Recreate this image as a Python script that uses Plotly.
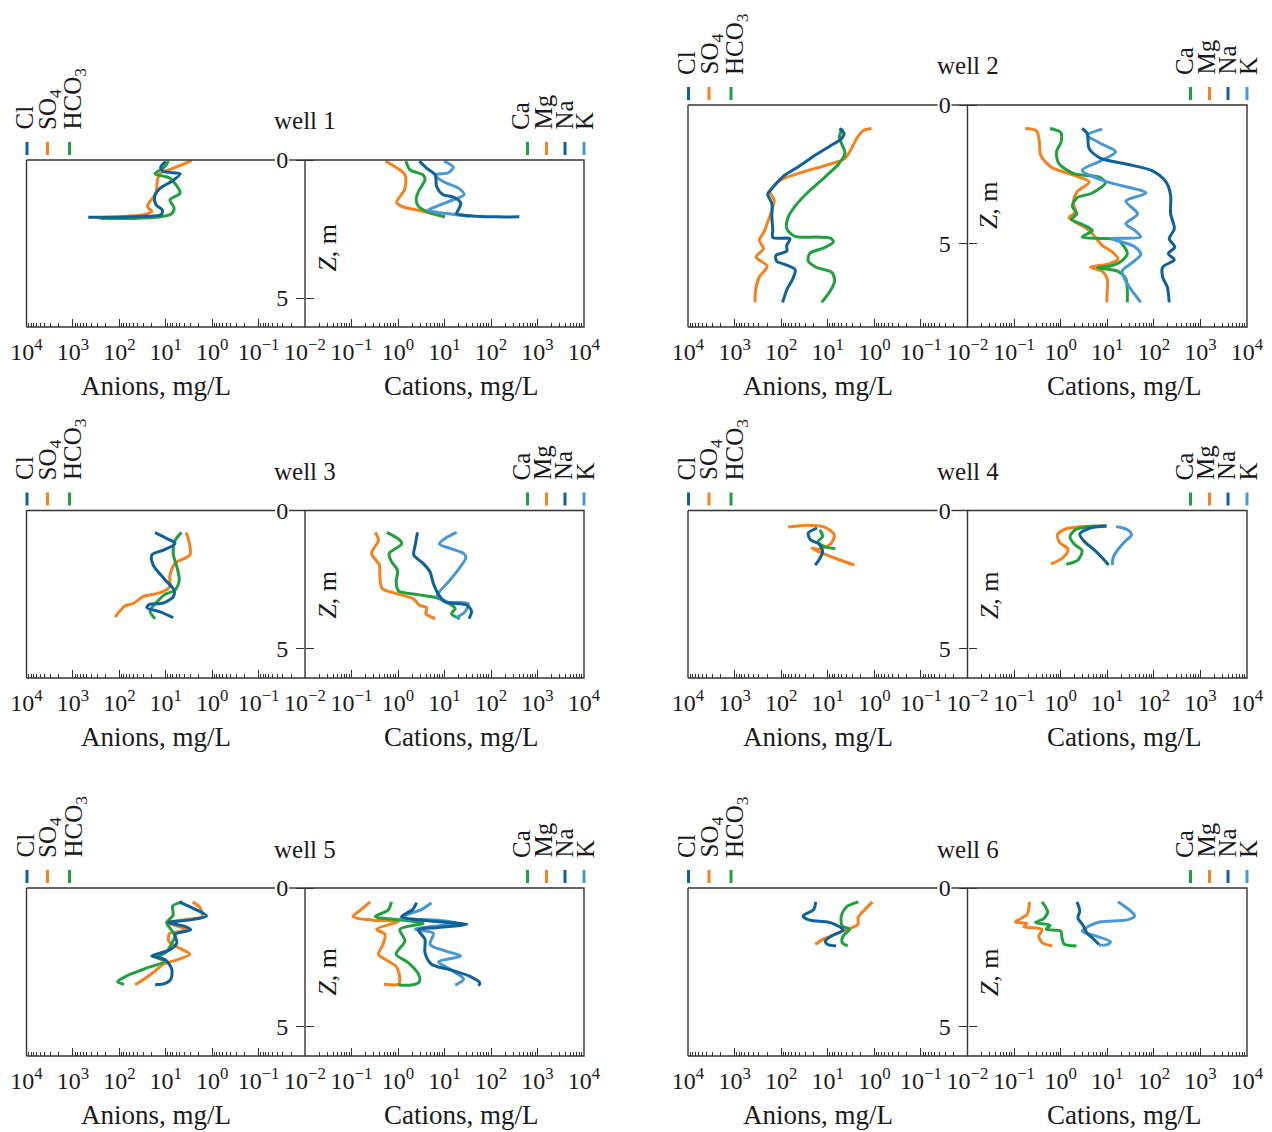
import numpy as np
import plotly.graph_objects as go

# ---------------------------------------------------------------------------
# Profiles: depth Z (m) and lg of concentration (mg/L)
# ---------------------------------------------------------------------------
# well 1
w1_cl_z = [0.06, 0.26, 0.42, 0.50, 0.74, 1.02, 1.32, 1.62, 1.82, 1.98, 2.04, 2.07, 2.07]
w1_cl_lg = [1.00, 1.11, 1.05, 0.69, 0.84, 1.12, 1.24, 1.21, 1.07, 1.10, 1.41, 2.06, 2.67]
w1_so4_z = [0.02, 0.30, 0.48, 0.72, 1.20, 1.50, 1.68, 1.86, 1.98, 2.04, 2.09]
w1_so4_lg = [0.44, 0.84, 1.12, 1.18, 1.21, 1.34, 1.40, 1.30, 1.48, 1.84, 2.49]
w1_hco3_z = [0.04, 0.24, 0.50, 0.66, 1.20, 1.44, 1.74, 1.94, 2.06, 2.12, 2.11]
w1_hco3_lg = [0.94, 1.02, 1.23, 0.91, 0.69, 0.91, 0.82, 0.87, 1.12, 1.70, 2.42]
w1_ca_z = [0.04, 0.36, 0.54, 0.72, 1.14, 1.44, 1.68, 1.86, 2.06]
w1_ca_lg = [0.17, 0.26, 0.54, 0.58, 0.44, 0.39, 0.44, 0.62, 1.01]
w1_mg_z = [0.04, 0.54, 1.08, 1.53, 1.68, 1.86, 2.07]
w1_mg_lg = [-0.27, 0.15, 0.14, -0.03, 0.08, 0.54, 1.01]
w1_na_z = [0.04, 0.30, 0.54, 0.96, 1.26, 1.34, 1.56, 1.80, 1.94, 2.04, 2.06, 2.06]
w1_na_lg = [0.46, 0.62, 0.80, 0.83, 0.97, 1.19, 1.35, 1.30, 1.26, 1.69, 2.12, 2.61]
w1_k_z = [0.04, 0.26, 0.46, 0.54, 0.78, 1.02, 1.26, 1.44, 1.68, 1.82, 1.94, 2.04]
w1_k_lg = [0.99, 1.19, 1.08, 0.80, 0.97, 1.30, 1.42, 1.19, 0.83, 0.65, 1.05, 1.55]

# well 2
w2_cl_z = [0.85, 1.03, 1.24, 1.41, 1.78, 2.23, 2.57, 3.02, 3.22, 3.56, 4.05, 4.53, 4.79, 4.83,
           5.07, 5.28, 5.43, 5.64, 5.76, 5.95, 6.28, 6.64, 7.13]
w2_cl_lg = [0.75, 0.65, 0.72, 0.88, 1.24, 1.63, 1.95, 2.20, 2.29, 2.20, 2.20, 2.18, 2.18, 1.81,
            1.88, 1.88, 2.11, 2.10, 1.92, 1.70, 1.75, 1.87, 1.97]
w2_so4_z = [0.85, 0.93, 1.21, 1.57, 1.93, 2.17, 2.42, 2.69, 2.90, 3.14, 3.44, 3.80, 4.23, 4.59,
            4.89, 5.19, 5.50, 5.82, 6.22, 6.70, 7.13]
w2_so4_lg = [0.06, 0.24, 0.38, 0.49, 0.63, 1.02, 1.53, 1.99, 2.15, 2.24, 2.15, 2.20, 2.29, 2.37,
             2.47, 2.38, 2.54, 2.30, 2.47, 2.55, 2.56]
w2_hco3_z = [0.85, 1.15, 1.41, 1.75, 2.14, 2.54, 3.08, 3.59, 4.05, 4.47, 4.75, 4.77, 4.81, 4.95,
             5.16, 5.35, 5.64, 5.86, 6.04, 6.34, 6.73, 7.13]
w2_hco3_lg = [0.68, 0.75, 0.70, 0.63, 0.77, 1.02, 1.38, 1.67, 1.85, 1.88, 1.70, 1.24, 0.94, 0.88,
              1.08, 1.38, 1.42, 1.25, 0.92, 0.85, 0.95, 1.13]
w2_ca_z = [0.85, 0.99, 1.33, 1.69, 2.11, 2.48, 2.60, 2.81, 3.18, 3.35, 3.66, 3.93, 4.13, 4.31,
           4.53, 4.77, 4.82, 4.87, 5.11, 5.37, 5.62, 5.80, 5.88, 6.00, 6.28, 6.70, 7.13]
w2_ca_lg = [-0.23, 0.00, 0.01, -0.09, -0.04, 0.28, 0.82, 0.96, 0.68, 0.35, 0.25, 0.35, 0.23, 0.46,
            0.68, 0.46, 0.86, 1.22, 1.36, 1.43, 1.32, 1.11, 0.79, 1.22, 1.40, 1.43, 1.43]
w2_mg_z = [0.85, 0.93, 1.27, 1.81, 2.23, 2.50, 2.78, 3.14, 3.50, 3.86, 4.07, 4.26, 4.53, 4.79,
           5.07, 5.31, 5.56, 5.74, 5.86, 6.00, 6.28, 6.70, 7.13]
w2_mg_lg = [-0.76, -0.52, -0.46, -0.43, -0.22, 0.21, 0.61, 0.35, 0.27, 0.32, 0.18, 0.35, 0.61, 0.75,
            0.89, 1.11, 1.23, 1.04, 0.64, 0.89, 1.00, 1.00, 0.99]
w2_na_z = [0.85, 1.03, 1.57, 1.93, 2.14, 2.38, 2.78, 3.26, 3.93, 4.47, 4.83, 5.13, 5.37, 5.59,
           5.86, 6.22, 6.58, 7.13]
w2_na_lg = [0.46, 0.57, 0.61, 0.86, 1.43, 1.97, 2.26, 2.36, 2.36, 2.44, 2.33, 2.45, 2.31, 2.44,
            2.19, 2.19, 2.29, 2.33]
w2_k_z = [0.87, 1.09, 1.39, 1.69, 2.02, 2.36, 2.78, 3.18, 3.47, 3.93, 4.29, 4.53, 4.77, 4.83,
          5.11, 5.40, 5.74, 6.00, 6.46, 7.13]
w2_k_lg = [0.89, 0.57, 0.86, 1.18, 0.86, 0.46, 1.00, 1.83, 1.40, 1.65, 1.40, 1.59, 1.72, 1.11,
           1.58, 1.72, 1.50, 1.32, 1.43, 1.72]

# well 3
w3_cl_z = [0.80, 1.01, 1.19, 1.43, 1.61, 1.97, 2.49, 2.88, 3.12, 3.34, 3.39, 3.51, 3.66, 3.87]
w3_cl_lg = [1.23, 0.98, 0.80, 1.05, 1.30, 1.27, 1.02, 0.82, 0.84, 1.05, 1.35, 1.41, 1.12, 0.84]
w3_so4_z = [0.79, 1.19, 1.61, 1.91, 2.34, 2.76, 2.97, 3.10, 3.36, 3.45, 3.85]
w3_so4_lg = [0.56, 0.49, 0.48, 0.80, 0.91, 0.92, 1.12, 1.48, 1.70, 1.88, 2.09]
w3_hco3_z = [0.79, 1.09, 1.55, 2.10, 2.52, 2.88, 3.03, 3.30, 3.63, 3.91]
w3_hco3_lg = [0.66, 0.80, 0.84, 0.75, 0.71, 0.80, 1.02, 1.19, 1.34, 1.23]
w3_ca_z = [0.79, 1.07, 1.21, 1.55, 1.85, 2.16, 2.58, 2.90, 3.03, 3.15, 3.34, 3.54, 3.73, 3.91]
w3_ca_lg = [-0.24, 0.04, 0.08, -0.19, -0.14, -0.01, -0.04, 0.01, 0.40, 0.83, 1.08, 1.23, 1.15, 1.33]
w3_mg_z = [0.79, 1.07, 1.55, 1.97, 2.40, 2.82, 3.00, 3.19, 3.42, 3.51, 3.73, 3.91]
w3_mg_lg = [-0.49, -0.42, -0.57, -0.40, -0.39, -0.34, -0.03, 0.33, 0.46, 0.62, 0.60, 0.80]
w3_na_z = [0.79, 1.25, 1.61, 1.91, 2.22, 2.64, 3.03, 3.30, 3.36, 3.42, 3.63, 3.91]
w3_na_lg = [0.42, 0.37, 0.34, 0.54, 0.69, 0.76, 0.87, 1.01, 1.26, 1.48, 1.58, 1.53]
w3_k_z = [0.79, 0.97, 1.21, 1.37, 1.55, 1.70, 2.22, 2.64, 3.06, 3.30, 3.36, 3.66, 3.87]
w3_k_lg = [1.26, 1.05, 0.89, 1.12, 1.41, 1.46, 1.26, 1.05, 0.85, 1.05, 1.51, 1.44, 1.25]

# well 4
w4_cl_z = [0.64, 0.82, 1.06, 1.21, 1.49, 1.73, 1.97]
w4_cl_lg = [1.23, 1.42, 1.37, 1.19, 1.11, 1.17, 1.27]
w4_so4_z = [0.60, 0.53, 0.60, 0.88, 1.21, 1.40, 1.36, 1.52, 1.76, 1.97]
w4_so4_lg = [1.85, 1.44, 1.07, 0.86, 0.94, 1.19, 1.34, 1.15, 0.78, 0.43]
w4_hco3_z = [0.70, 0.94, 1.12, 1.30, 1.38]
w4_hco3_lg = [1.17, 1.11, 1.21, 1.07, 0.84]
w4_ca_z = [0.56, 0.59, 0.70, 0.94, 1.21, 1.45, 1.79, 1.94]
w4_ca_lg = [0.99, 0.57, 0.31, 0.20, 0.29, 0.46, 0.37, 0.12]
w4_mg_z = [0.56, 0.58, 0.66, 0.88, 1.16, 1.40, 1.69, 1.94]
w4_mg_lg = [0.99, 0.49, 0.12, -0.07, -0.02, 0.16, 0.06, -0.21]
w4_na_z = [0.56, 0.64, 0.85, 1.12, 1.45, 1.76, 1.97]
w4_na_lg = [0.97, 0.62, 0.41, 0.51, 0.74, 0.92, 1.03]
w4_k_z = [0.58, 0.70, 0.88, 1.12, 1.43, 1.69, 1.97]
w4_k_lg = [1.19, 1.44, 1.52, 1.38, 1.22, 1.13, 1.11]

# well 5
w5_cl_z = [0.50, 0.71, 1.01, 1.15, 1.25, 1.39, 1.51, 1.67, 1.97, 2.23, 2.45, 2.59, 2.93, 3.29, 3.44, 3.49]
w5_cl_lg = [0.71, 0.44, 0.12, 0.48, 0.94, 0.58, 0.46, 0.80, 0.76, 0.91, 1.30, 1.01, 0.87, 0.89, 1.01, 1.23]
w5_so4_z = [0.50, 0.71, 1.03, 1.15, 1.25, 1.43, 1.55, 1.63, 1.91, 2.15, 2.39, 2.59, 2.75, 3.05, 3.35, 3.49]
w5_so4_lg = [0.42, 0.26, 0.22, 0.62, 0.98, 0.66, 0.55, 0.91, 0.94, 0.73, 0.48, 0.76, 1.05, 1.27, 1.52, 1.66]
w5_hco3_z = [0.50, 0.65, 0.98, 1.25, 1.49, 1.73, 1.99, 2.30, 2.51, 2.63, 2.93, 3.17, 3.38, 3.48]
w5_hco3_lg = [0.64, 0.85, 0.84, 0.98, 0.89, 0.80, 0.87, 0.98, 1.19, 1.01, 1.48, 1.84, 2.04, 1.90]
w5_ca_z = [0.50, 0.79, 1.03, 1.15, 1.27, 1.49, 1.91, 2.39, 2.69, 3.11, 3.38, 3.50, 3.50]
w5_ca_lg = [-0.14, -0.21, -0.49, 0.04, 0.54, 0.04, 0.15, -0.04, 0.22, 0.44, 0.46, 0.29, 0.01]
w5_mg_z = [0.50, 0.79, 1.03, 1.16, 1.20, 1.49, 1.67, 2.03, 2.39, 2.59, 2.83, 3.26, 3.47, 3.47]
w5_mg_lg = [-0.60, -0.80, -0.97, -0.53, 0.01, -0.46, -0.28, -0.32, -0.42, -0.26, -0.04, 0.04, 0.01, -0.30]
w5_na_z = [0.53, 0.77, 1.03, 1.19, 1.31, 1.43, 1.51, 1.85, 2.33, 2.75, 2.95, 3.19, 3.43, 3.53]
w5_na_lg = [0.40, 0.32, 0.08, 0.69, 1.48, 0.83, 0.44, 0.58, 0.58, 0.72, 1.12, 1.55, 1.76, 1.73]
w5_k_z = [0.53, 0.77, 1.07, 1.16, 1.27, 1.49, 1.63, 2.03, 2.27, 2.45, 2.66, 2.93, 3.29, 3.50]
w5_k_lg = [0.72, 0.51, 0.06, 0.83, 1.26, 0.37, 0.76, 0.69, 1.01, 1.35, 0.87, 1.12, 1.41, 1.23]

# well 6
w6_cl_z = [0.50, 0.77, 1.01, 1.16, 1.22, 1.31, 1.51, 1.73, 1.91, 2.04, 2.09]
w6_cl_lg = [1.26, 1.30, 1.53, 1.39, 1.03, 0.85, 0.67, 0.92, 1.05, 1.00, 0.82]
w6_so4_z = [0.50, 0.79, 1.07, 1.31, 1.45, 1.57, 1.73, 1.85, 2.03]
w6_so4_lg = [0.04, 0.21, 0.35, 0.35, 0.50, 0.71, 0.92, 1.10, 1.27]
w6_hco3_z = [0.50, 0.67, 1.01, 1.37, 1.49, 1.73, 1.97, 2.09]
w6_hco3_lg = [0.34, 0.59, 0.71, 0.69, 0.53, 0.67, 0.69, 0.57]
w6_ca_z = [0.50, 0.86, 1.10, 1.25, 1.34, 1.49, 1.55, 1.82, 2.03, 2.09]
w6_ca_lg = [-0.40, -0.28, -0.36, -0.54, -0.23, -0.31, 0.00, 0.03, 0.08, 0.34]
w6_mg_z = [0.50, 0.95, 1.22, 1.28, 1.40, 1.49, 1.75, 1.99, 2.09]
w6_mg_lg = [-0.67, -0.72, -0.97, -0.72, -0.79, -0.40, -0.47, -0.38, -0.18]
w6_na_z = [0.50, 0.83, 1.08, 1.34, 1.61, 1.85, 2.04]
w6_na_lg = [0.35, 0.41, 0.37, 0.48, 0.56, 0.71, 0.82]
w6_k_z = [0.50, 0.83, 1.01, 1.15, 1.22, 1.37, 1.56, 1.73, 1.94, 2.04, 2.06]
w6_k_lg = [1.23, 1.50, 1.59, 1.43, 0.86, 0.61, 0.46, 0.75, 1.07, 1.00, 0.82]

well_names = ["well 1", "well 2", "well 3", "well 4", "well 5", "well 6"]
depth_max = [6.05, 8.02, 6.05, 6.05, 6.06, 6.06]
anion_exps = [4, 3, 2, 1, 0, -1]
cation_exps = [-2, -1, 0, 1, 2, 3, 4]

# ---------------------------------------------------------------------------
# Styling and page geometry (pixels)
# ---------------------------------------------------------------------------
FIG_W, FIG_H = 1272, 1132
SERIF = "Liberation Serif, Times New Roman, serif"
INK = "#1a1a1a"
FRAME = "#333333"
BLUE = "#10609a"
ORANGE = "#f5821f"
GREEN = "#22a040"
SKY = "#4a98d3"

ANION_LABELS = ["Cl", "SO<sub>4</sub>", "HCO<sub>3</sub>"]
ANION_COLORS = [BLUE, ORANGE, GREEN]
CATION_LABELS = ["Ca", "Mg", "Na", "K"]
CATION_COLORS = [GREEN, ORANGE, BLUE, SKY]

COLUMNS = [(26.5, 305.0, 584.0), (688.0, 967.5, 1247.0)]   # left, middle, right edge
PANEL_ROWS = [(160.0, 327.0), (105.0, 327.0), (510.5, 678.0),
              (510.5, 678.0), (888.0, 1056.0), (888.0, 1056.0)]
Z_LABEL_OFFSET = [88, 100, 84.5, 84.5, 84, 84]

anion_sets = [
    [(w1_cl_z, w1_cl_lg), (w1_so4_z, w1_so4_lg), (w1_hco3_z, w1_hco3_lg)],
    [(w2_cl_z, w2_cl_lg), (w2_so4_z, w2_so4_lg), (w2_hco3_z, w2_hco3_lg)],
    [(w3_cl_z, w3_cl_lg), (w3_so4_z, w3_so4_lg), (w3_hco3_z, w3_hco3_lg)],
    [(w4_cl_z, w4_cl_lg), (w4_so4_z, w4_so4_lg), (w4_hco3_z, w4_hco3_lg)],
    [(w5_cl_z, w5_cl_lg), (w5_so4_z, w5_so4_lg), (w5_hco3_z, w5_hco3_lg)],
    [(w6_cl_z, w6_cl_lg), (w6_so4_z, w6_so4_lg), (w6_hco3_z, w6_hco3_lg)],
]
cation_sets = [
    [(w1_ca_z, w1_ca_lg), (w1_mg_z, w1_mg_lg), (w1_na_z, w1_na_lg), (w1_k_z, w1_k_lg)],
    [(w2_ca_z, w2_ca_lg), (w2_mg_z, w2_mg_lg), (w2_na_z, w2_na_lg), (w2_k_z, w2_k_lg)],
    [(w3_ca_z, w3_ca_lg), (w3_mg_z, w3_mg_lg), (w3_na_z, w3_na_lg), (w3_k_z, w3_k_lg)],
    [(w4_ca_z, w4_ca_lg), (w4_mg_z, w4_mg_lg), (w4_na_z, w4_na_lg), (w4_k_z, w4_k_lg)],
    [(w5_ca_z, w5_ca_lg), (w5_mg_z, w5_mg_lg), (w5_na_z, w5_na_lg), (w5_k_z, w5_k_lg)],
    [(w6_ca_z, w6_ca_lg), (w6_mg_z, w6_mg_lg), (w6_na_z, w6_na_lg), (w6_k_z, w6_k_lg)],
]


def px_x(px):
    return px / FIG_W


def px_y(py):
    return 1 - py / FIG_H


def axis_id(letter, n):
    return letter if n == 1 else "%s%d" % (letter, n)


def power_label(e):
    return "10<sup>%s</sup>" % (str(e) if e >= 0 else "\u2212%d" % (-e))


minor_vals = [k * 10.0 ** e for e in range(-2, 4) for k in range(2, 10)]

fig = go.Figure()
layout = {}
shapes = []
annotations = []

for i in range(6):
    col = i % 2
    x0, xm, x1 = COLUMNS[col]
    top, bottom = PANEL_ROWS[i]
    ia, ic = 2 * i + 1, 2 * i + 2
    xa, xc = axis_id("x", ia), axis_id("x", ic)
    ya, yc = axis_id("y", ia), axis_id("y", ic)
    ydom = [px_y(bottom), px_y(top)]

    common_x = dict(type="log", tickmode="array", ticks="inside", ticklen=8, tickwidth=1,
                    tickcolor=FRAME, showgrid=False, zeroline=False, showline=False,
                    automargin=False, ticklabelstandoff=8,
                    tickfont=dict(family=SERIF, size=24, color=INK), fixedrange=True,
                    minor=dict(tickmode="array", tickvals=minor_vals, ticks="inside",
                               ticklen=4, tickwidth=1, tickcolor=FRAME, showgrid=False))
    layout[axis_id("xaxis", ia)] = dict(common_x, domain=[px_x(x0), px_x(xm)], anchor=ya,
                                        range=[4, -2],
                                        tickvals=[10.0 ** e for e in anion_exps],
                                        ticktext=[power_label(e) for e in anion_exps])
    layout[axis_id("xaxis", ic)] = dict(common_x, domain=[px_x(xm), px_x(x1)], anchor=yc,
                                        range=[-2, 4],
                                        tickvals=[10.0 ** e for e in cation_exps],
                                        ticktext=[power_label(e) for e in cation_exps])
    zr = [depth_max[i], 0]
    layout[axis_id("yaxis", ia)] = dict(domain=ydom, anchor=xa, range=zr, side="right",
                                        tickmode="array", tickvals=[0, 5], ticks="outside",
                                        ticklen=8, tickwidth=1, tickcolor=FRAME,
                                        showticklabels=False, showgrid=False, zeroline=False,
                                        showline=False, fixedrange=True, automargin=False)
    layout[axis_id("yaxis", ic)] = dict(domain=ydom, anchor=xc, range=zr, side="left",
                                        tickmode="array", tickvals=[0, 5], ticktext=["0", "5"],
                                        ticks="outside", ticklen=8, tickwidth=1, tickcolor=FRAME,
                                        ticklabelstandoff=3, automargin=False,
                                        tickfont=dict(family=SERIF, size=24, color=INK),
                                        showgrid=False, zeroline=False, showline=False,
                                        fixedrange=True)

    # profiles
    for k in [1, 2, 0]:
        z, lg = anion_sets[i][k]
        fig.add_trace(go.Scatter(x=10 ** np.array(lg), y=z, xaxis=xa, yaxis=ya, mode="lines",
                                 line=dict(color=ANION_COLORS[k], width=3, shape="spline",
                                           smoothing=0.8),
                                 showlegend=False, hoverinfo="skip"))
    for k in [1, 0, 3, 2]:
        z, lg = cation_sets[i][k]
        fig.add_trace(go.Scatter(x=10 ** np.array(lg), y=z, xaxis=xc, yaxis=yc, mode="lines",
                                 line=dict(color=CATION_COLORS[k], width=3, shape="spline",
                                           smoothing=0.8),
                                 showlegend=False, hoverinfo="skip"))

    # frames: cation box, anion box with a gap in the top edge for the "0" label
    frame_line = dict(color=FRAME, width=1.4)
    shapes.append(dict(type="rect", xref=xc + " domain", yref=yc + " domain",
                       x0=0, x1=1, y0=0, y1=1, line=frame_line, layer="above"))
    wa = xm - x0
    for (ax0, ax1, ay0, ay1) in [(0, 0, 0, 1), (0, 1, 0, 0),
                                 (0, 1 - 30 / wa, 1, 1), (1 - 16 / wa, 1, 1, 1)]:
        shapes.append(dict(type="line", xref=xa + " domain", yref=ya + " domain",
                           x0=ax0, x1=ax1, y0=ay0, y1=ay1, line=frame_line, layer="above"))

    # legend ticks and rotated ion names
    for xoff, lab_off, lab, colr in zip([0.5, 21, 43], [-2, 23, 48], ANION_LABELS, ANION_COLORS):
        shapes.append(dict(type="line", xref="paper", yref="paper",
                           x0=px_x(x0 + xoff), x1=px_x(x0 + xoff),
                           y0=px_y(top - 5), y1=px_y(top - 18),
                           line=dict(color=colr, width=3)))
        annotations.append(dict(xref="paper", yref="paper", x=px_x(x0 + lab_off),
                                y=px_y(top - 28), text=lab, textangle=-90, showarrow=False,
                                xanchor="center", yanchor="bottom",
                                font=dict(family=SERIF, size=25, color=INK)))
    for xoff, lab_off, lab, colr in zip([-56.5, -37.5, -19, 0], [-63, -41, -20, 1],
                                        CATION_LABELS, CATION_COLORS):
        shapes.append(dict(type="line", xref="paper", yref="paper",
                           x0=px_x(x1 + xoff), x1=px_x(x1 + xoff),
                           y0=px_y(top - 5), y1=px_y(top - 18),
                           line=dict(color=colr, width=3)))
        annotations.append(dict(xref="paper", yref="paper", x=px_x(x1 + lab_off),
                                y=px_y(top - 28), text=lab, textangle=-90, showarrow=False,
                                xanchor="center", yanchor="bottom",
                                font=dict(family=SERIF, size=25, color=INK)))

    # titles
    annotations.append(dict(xref="paper", yref="paper", x=px_x(xm), y=px_y(top - 39),
                            text=well_names[i], showarrow=False, xanchor="center",
                            yanchor="middle", font=dict(family=SERIF, size=25, color=INK)))
    annotations.append(dict(xref="paper", yref="paper", x=px_x(xm + 21.6),
                            y=px_y(top + Z_LABEL_OFFSET[i]), text="<i>Z</i>, m",
                            textangle=-90, showarrow=False, xanchor="center",
                            yanchor="middle", font=dict(family=SERIF, size=26, color=INK)))
    annotations.append(dict(xref="paper", yref="paper", x=px_x((x0 + xm) / 2 - 9.5),
                            y=px_y(bottom + 59), text="Anions, mg/L", showarrow=False,
                            xanchor="center", yanchor="middle",
                            font=dict(family=SERIF, size=27, color=INK)))
    annotations.append(dict(xref="paper", yref="paper", x=px_x((xm + x1) / 2 + 17),
                            y=px_y(bottom + 59), text="Cations, mg/L", showarrow=False,
                            xanchor="center", yanchor="middle",
                            font=dict(family=SERIF, size=27, color=INK)))

fig.update_layout(**layout)
fig.update_layout(width=FIG_W, height=FIG_H, margin=dict(l=0, r=0, t=0, b=0, pad=0),
                  paper_bgcolor="white", plot_bgcolor="white",
                  shapes=shapes, annotations=annotations, showlegend=False)

fig.write_html("out.html", config={"displayModeBar": False})
